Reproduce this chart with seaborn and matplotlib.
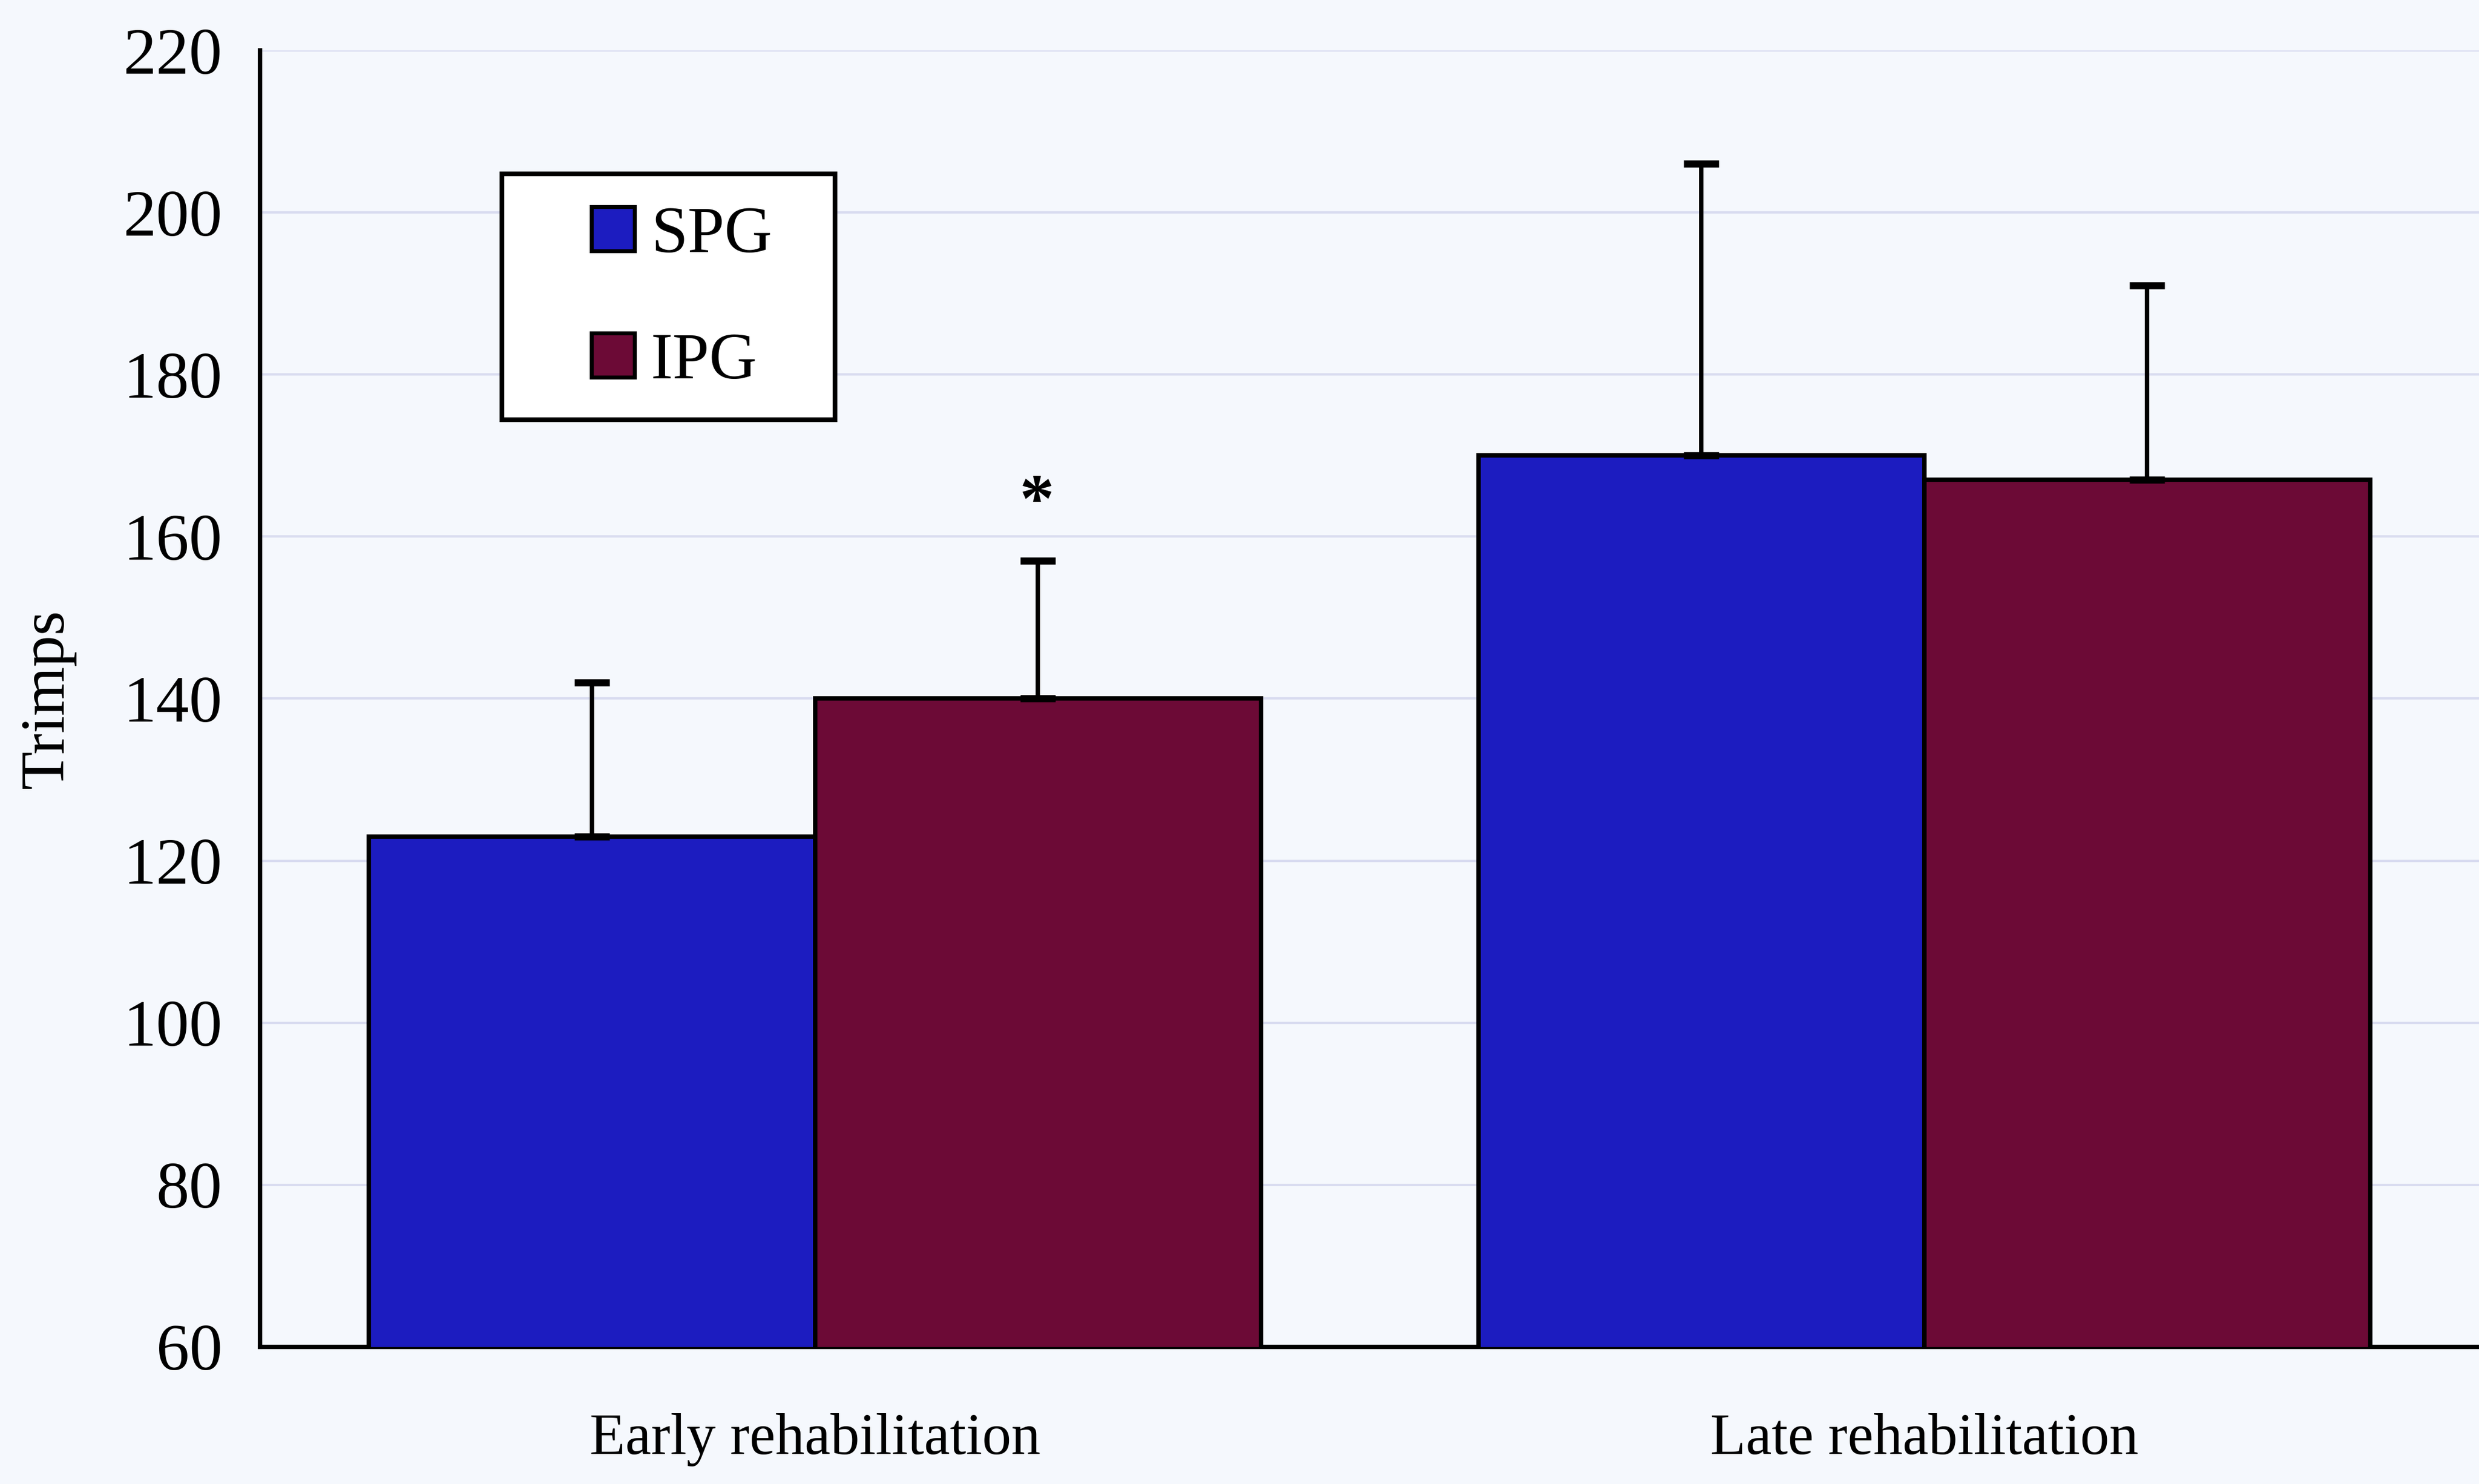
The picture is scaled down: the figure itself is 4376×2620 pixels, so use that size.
import matplotlib
matplotlib.use("Agg")
import matplotlib.pyplot as plt
from matplotlib.patches import Rectangle
import seaborn as sns
import pandas as pd
import numpy as np

phases = ["Early rehabilitation", "Late rehabilitation"]
groups = ["SPG", "IPG"]
spg_means = [123.0, 170.0]
ipg_means = [140.0, 167.0]
spg_err = [19.0, 36.0]
ipg_err = [17.0, 24.0]
yticks = [60, 80, 100, 120, 140, 160, 180, 200, 220]
colors = {"SPG": "#1c1cc0", "IPG": "#6c0a36"}

df = pd.DataFrame({
    "phase": phases * 2,
    "group": ["SPG"] * 2 + ["IPG"] * 2,
    "value": spg_means + ipg_means,
    "err": spg_err + ipg_err,
})

sns.set_theme(style="white")
plt.rcParams['font.family'] = ['Liberation Serif', 'DejaVu Serif']
plt.rcParams['text.color'] = 'black'
plt.rcParams['axes.labelcolor'] = 'black'
plt.rcParams['xtick.color'] = 'black'
plt.rcParams['ytick.color'] = 'black'
bg = "#f5f8fd"
fig = plt.figure(figsize=(21.88, 13.10), dpi=200, facecolor=bg)
ax = fig.add_axes([0.105, 0.0924, 0.895, 0.8736])
ax.set_facecolor(bg)

sns.barplot(data=df, x="phase", y="value", hue="group", hue_order=groups,
            order=phases, palette=colors, width=0.804, edgecolor="black",
            linewidth=2.8, errorbar=None, ax=ax, saturation=1, zorder=3)

# error bars (upper only) positioned from bar patches
bars = [p for p in ax.patches if p.get_height() > 0]
for p in bars:
    cx = p.get_x() + p.get_width() / 2
    h = p.get_height()
    row = df[np.isclose(df["value"], h)].iloc[0]
    ax.errorbar(cx, h, yerr=[[0], [row["err"]]], fmt="none", ecolor="black",
                elinewidth=2.8, capsize=11, capthick=4.5, zorder=4)

# significance marker
ipg_early = df[(df.group == "IPG") & (df.phase == phases[0])].iloc[0]
ax.text(0.2, ipg_early["value"] + ipg_early["err"] + 3, "*", ha="center",
        va="bottom", fontsize=44, fontweight="bold", color="black")

ax.set_ylim(60, 220)
ax.set_xlim(-0.5, 1.5)
ax.set_yticks(yticks)
ax.set_yticklabels([str(t) for t in yticks], fontsize=42)
ax.yaxis.grid(True, color="#d9dcf0", linewidth=1.5, zorder=0)
ax.set_axisbelow(True)

ax.set_xticks([-0.5, 0.5, 1.5])
ax.set_xticklabels(["", "", ""])
ax.set_xticks([0, 1], minor=True)
ax.set_xticklabels(phases, minor=True, fontsize=37)
ax.tick_params(axis="x", which="minor", length=0, pad=42)
ax.tick_params(axis="x", which="major", length=12, width=2, color="black", direction="out")
ax.tick_params(axis="y", length=12, width=2.5, color="black", direction="out", pad=12)

for s in ["top", "right"]:
    ax.spines[s].set_visible(False)
for s in ["left", "bottom"]:
    ax.spines[s].set_color("black")
    ax.spines[s].set_linewidth(2.8)

ax.set_xlabel("")
ax.set_ylabel("Trimps", fontsize=40, labelpad=30)

# legend box
box = Rectangle((0.109, 0.715), 0.150, 0.190, transform=ax.transAxes,
                facecolor="white", edgecolor="black", linewidth=3, zorder=5)
ax.add_patch(box)
handles, labels = ax.get_legend_handles_labels()
leg = ax.legend(handles, labels, loc="center", bbox_to_anchor=(0.190, 0.808),
                fontsize=42, frameon=False, handlelength=0.65,
                handleheight=0.65, handletextpad=0.25, labelspacing=1.0,
                borderpad=0, borderaxespad=0)
leg.set_zorder(6)
for t in leg.get_texts():
    t.set_color("black")
for h in leg.legend_handles:
    h.set_linewidth(2.5)
    h.set_edgecolor("black")

fig.savefig("out.png", dpi=200, facecolor=bg)
